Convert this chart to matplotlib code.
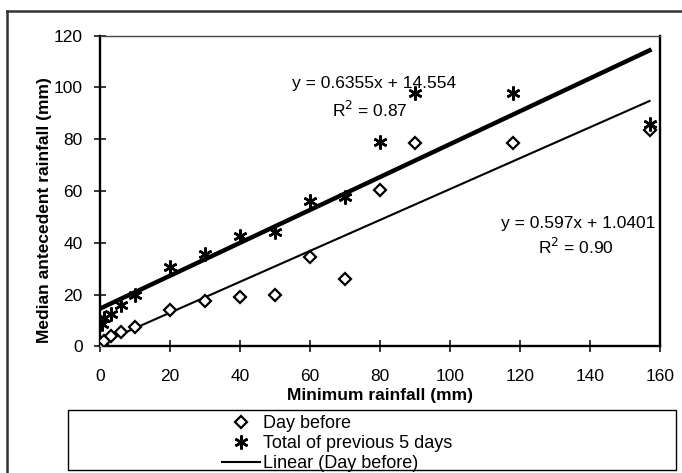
import numpy as np
import matplotlib
matplotlib.use("Agg")
import matplotlib.pyplot as plt
from matplotlib.lines import Line2D
from matplotlib.patches import Rectangle

# ---- data ----
min_rainfall = [0.5, 1, 3, 6, 10, 20, 30, 40, 50, 60, 70, 80, 90, 118, 157]
day_before = [1, 2, 4, 5.5, 7.5, 14, 17.5, 19, 20, 34.5, 26, 60.5, 78.5, 78.5, 83.5]
total_5_days = [8.5, 11, 12.5, 16, 20, 30.5, 35.5, 42.5, 44, 56, 57.5, 79, 98, 98, 86]

trend_slopes = [0.597, 0.6355]
trend_intercepts = [1.0401, 14.554]
eq_texts = ["y = 0.597x + 1.0401", "y = 0.6355x + 14.554"]
r2_texts = ["R$^2$ = 0.90", "R$^2$ = 0.87"]
legend_labels = ["Day before", "Total of previous 5 days",
                 "Linear (Day before)", "Linear (Total of previous 5 days)"]
x_ticks = [0, 20, 40, 60, 80, 100, 120, 140, 160]
y_ticks = [0, 20, 40, 60, 80, 100, 120]

W, H = 682, 473
plt.rcParams['font.family'] = ['Liberation Sans', 'DejaVu Sans']
fig = plt.figure(figsize=(W / 100, H / 100), dpi=100)
fig.patch.set_facecolor('white')

def fx(px):
    return px / W

def fy(py):
    return 1 - py / H

left, right, top, bottom = 100, 660, 35.7, 346.3
ax = fig.add_axes([fx(left), fy(bottom), fx(right - left), (bottom - top) / H])

star = (6, 2, 0)
ax.plot(min_rainfall, day_before, linestyle='none', marker='D', markersize=6,
        markerfacecolor='white', markeredgecolor='black', markeredgewidth=1.6, zorder=3)
ax.plot(min_rainfall, total_5_days, linestyle='none', marker=star, markersize=10,
        markeredgecolor='black', markeredgewidth=1.8, zorder=3)

xe = np.array([0, max(min_rainfall)])
ax.plot(xe, trend_slopes[0] * xe + trend_intercepts[0], color='black', lw=1.5, zorder=2)
ax.plot(xe, trend_slopes[1] * xe + trend_intercepts[1], color='black', lw=3.2, zorder=2)

ax.set_xlim(0, 160)
ax.set_ylim(0, 120)
ax.set_xticks(x_ticks)
ax.set_yticks(y_ticks)
ax.tick_params(axis='both', direction='inout', length=9, width=1.1, labelsize=12.5, colors='black')
ax.tick_params(axis='x', pad=12)
ax.tick_params(axis='y', pad=8)
for s in ['left', 'bottom', 'right']:
    ax.spines[s].set_linewidth(1.7)
ax.spines['top'].set_linewidth(1.0)
ax.spines['top'].set_color('#444444')

ax.set_xlabel("Minimum rainfall (mm)", fontsize=12.5, fontweight='bold')
ax.xaxis.label.set_va('center')
ax.xaxis.set_label_coords(0.5, (bottom - 395) / (bottom - top))
ax.set_ylabel("Median antecedent rainfall (mm)", fontsize=12.5, fontweight='bold')
ax.yaxis.label.set_va('center')
ax.yaxis.set_label_coords((45 - left) / (right - left), (bottom - 210) / (bottom - top))

# trendline equations
ax.text(78.3, 101.6, eq_texts[1], ha='center', va='center', fontsize=12.5)
ax.text(77, 91.3, r2_texts[1], ha='center', va='center', fontsize=12.5)
ax.text(136.6, 47.5, eq_texts[0], ha='center', va='center', fontsize=12.5)
ax.text(136, 38.5, r2_texts[0], ha='center', va='center', fontsize=12.5)

# outer chart frame
fig.add_artist(Line2D([fx(7), 1], [fy(11), fy(11)], color='#333333', lw=1.8))
fig.add_artist(Line2D([fx(7), fx(7)], [fy(11), 0], color='#333333', lw=1.8))

handles = [
    Line2D([], [], linestyle='none', marker='D', markersize=6, markerfacecolor='white',
           markeredgecolor='black', markeredgewidth=1.6),
    Line2D([], [], linestyle='none', marker=star, markersize=10, markeredgecolor='black',
           markeredgewidth=1.8),
    Line2D([], [], color='black', lw=1.5),
    Line2D([], [], color='black', lw=3.2),
]
leg = fig.legend(handles, legend_labels, loc='upper left',
                 bbox_to_anchor=(fx(222), fy(415)), frameon=False, fontsize=13,
                 handlelength=2.1, handletextpad=0.15, labelspacing=0.17,
                 borderpad=0.0, borderaxespad=0.0)

# legend box (bottom edge drawn across the cut-off last entry)
fig.add_artist(Rectangle((fx(68), fy(470)), fx(676 - 68), (470 - 410) / H,
                         fill=False, edgecolor='black', lw=1.0, zorder=5))

fig.savefig("out.png", dpi=100)
